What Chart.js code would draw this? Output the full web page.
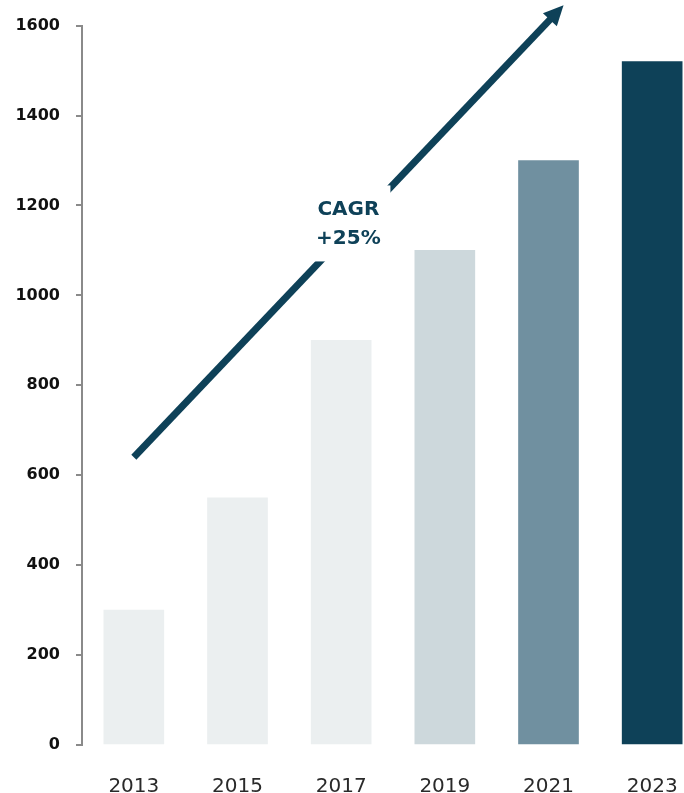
<!DOCTYPE html>
<html>
<head>
<meta charset="utf-8">
<script src="https://cdn.jsdelivr.net/npm/chart.js@4/dist/chart.umd.min.js"></script>
<style>
  html, body { margin: 0; padding: 0; background: #fff; overflow: hidden; }
  #wrap { position: relative; width: 704px; height: 793px; }
</style>
</head>
<body>
<div id="wrap"><canvas id="c"></canvas></div>
<script>
var years = ['2013', '2015', '2017', '2019', '2021', '2023'];
var revenue = [300, 550, 900, 1100, 1300, 1520];
var barColors = ['#ebeff0', '#ebeff0', '#ebeff0', '#cdd8dc', '#7090a0', '#0e4158'];
var yTicks = [0, 200, 400, 600, 800, 1000, 1200, 1400, 1600];

// trend arrow, in data units (x = category index)
var arrowFrom = { x: 0, y: 640 };
var arrowTo = { x: 4.145, y: 1645 };
var cagrLabel = ['CAGR', '+25%'];
var cagrAt = { x: 2.07, y: 1160 };

var DARK = '#0e4158';

var arrowPlugin = {
    id: 'cagrArrow',
    afterDatasetsDraw: function (chart) {
        var ctx = chart.ctx, xs = chart.scales.x, ys = chart.scales.y;
        var x1 = xs.getPixelForValue(arrowFrom.x), y1 = ys.getPixelForValue(arrowFrom.y);
        var x2 = xs.getPixelForValue(arrowTo.x), y2 = ys.getPixelForValue(arrowTo.y);
        var ang = Math.atan2(y2 - y1, x2 - x1);
        var head = 22;
        ctx.save();
        ctx.strokeStyle = DARK;
        ctx.fillStyle = DARK;
        ctx.lineWidth = 7;
        ctx.beginPath();
        ctx.moveTo(x1, y1);
        ctx.lineTo(x2 - Math.cos(ang) * (head - 4), y2 - Math.sin(ang) * (head - 4));
        ctx.stroke();
        ctx.beginPath();
        ctx.moveTo(x2, y2);
        ctx.lineTo(x2 - head * Math.cos(ang - 0.45), y2 - head * Math.sin(ang - 0.45));
        ctx.lineTo(x2 - head * Math.cos(ang + 0.45), y2 - head * Math.sin(ang + 0.45));
        ctx.closePath();
        ctx.fill();

        // label with a white gap behind it
        var cx = xs.getPixelForValue(cagrAt.x), cy = ys.getPixelForValue(cagrAt.y);
        ctx.fillStyle = '#fff';
        ctx.fillRect(cx - 42, cy - 38, 84, 76);
        ctx.fillStyle = DARK;
        ctx.font = 'bold 20px "DejaVu Sans"';
        ctx.textAlign = 'center';
        ctx.textBaseline = 'middle';
        ctx.fillText(cagrLabel[0], cx, cy - 14);
        ctx.fillText(cagrLabel[1], cx, cy + 15);
        ctx.restore();
    }
};

new Chart(document.getElementById('c'), {
    type: 'bar',
    data: {
        labels: years,
        datasets: [{
            data: revenue,
            backgroundColor: barColors,
            borderWidth: 0,
            barThickness: 60
        }]
    },
    plugins: [arrowPlugin],
    options: {
        responsive: true,
        maintainAspectRatio: false,
        animation: false,
        layout: { padding: { top: 25, right: 0, left: 0, bottom: 0 } },
        plugins: { legend: { display: false }, tooltip: { enabled: false } },
        scales: {
            x: {
                grid: { display: false },
                border: { display: false },
                ticks: {
                    color: '#2a2a2a',
                    font: { family: 'DejaVu Sans', size: 20 },
                    padding: 22
                },
                afterFit: function (s) { s.height = 48; }
            },
            y: {
                min: 0,
                max: 1600,
                afterBuildTicks: function (s) { s.ticks = yTicks.map(function (v) { return { value: v }; }); },
                grid: {
                    drawOnChartArea: false,
                    drawTicks: true,
                    tickLength: 6,
                    color: '#8a8a8a',
                    lineWidth: 2
                },
                border: { display: true, color: '#8a8a8a', width: 2 },
                ticks: {
                    color: '#111',
                    font: { family: 'DejaVu Sans', size: 16, weight: 'bold' },
                    padding: 16,
                    callback: function (v) { return String(v); }
                },
                afterFit: function (s) { s.width = 82; }
            }
        }
    }
});
</script>
</body>
</html>
